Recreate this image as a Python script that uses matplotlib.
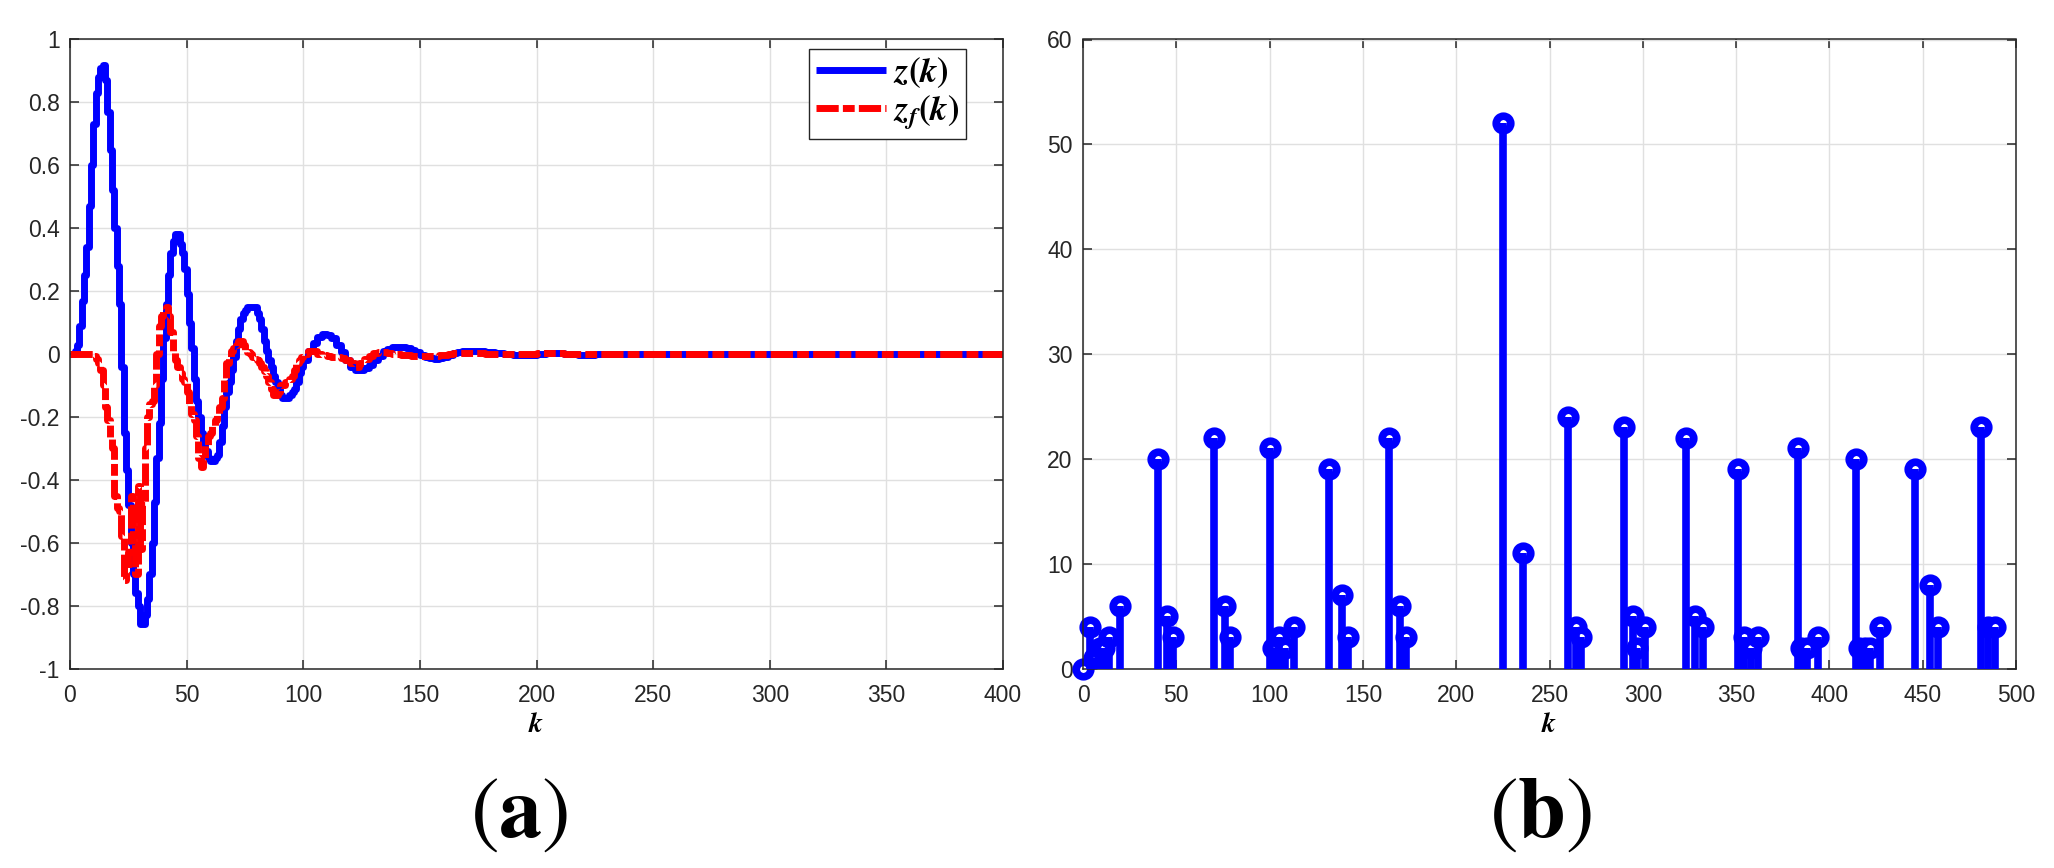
import matplotlib
matplotlib.use("Agg")
import matplotlib.pyplot as plt
import numpy as np

plt.rcParams['font.family'] = ['Liberation Sans', 'DejaVu Sans']
plt.rcParams['mathtext.fontset'] = 'stix'
plt.rcParams['axes.unicode_minus'] = False

# ---------------- data: panel (a) ----------------
k_z = list(range(0, 101)) + [102, 104, 106, 108, 110, 112, 114, 116, 118, 120, 122, 124, 126, 128, 130,
                             132, 134, 136, 138, 140, 142, 144, 146, 148, 150, 152, 154, 156, 158, 160,
                             162, 164, 166, 168, 170, 174, 178, 182, 186, 190, 195, 200, 204, 208, 212,
                             218, 225, 235, 400]
z_vals = [0, 0.0, 0.01, 0.03, 0.09, 0.17, 0.25, 0.34, 0.47, 0.6,
          0.73, 0.83, 0.88, 0.91, 0.92, 0.87, 0.77, 0.65, 0.52, 0.4,
          0.28, 0.16, -0.04, -0.25, -0.37, -0.48, -0.6, -0.7, -0.76, -0.8,
          -0.86, -0.86, -0.83, -0.78, -0.7, -0.6, -0.47, -0.33, -0.22, -0.08,
          0.05, 0.16, 0.25, 0.32, 0.36, 0.38, 0.38, 0.35, 0.32, 0.27,
          0.19, 0.1, 0.02, -0.08, -0.15, -0.2, -0.25, -0.28, -0.31, -0.33,
          -0.34, -0.34, -0.33, -0.32, -0.28, -0.23, -0.17, -0.12, -0.09, -0.05,
          -0.01, 0.04, 0.08, 0.11, 0.13, 0.14, 0.15, 0.15, 0.15, 0.15,
          0.13, 0.11, 0.08, 0.04, 0.01, -0.02, -0.04, -0.07, -0.09, -0.11,
          -0.13, -0.14, -0.14, -0.14, -0.13, -0.12, -0.11, -0.09, -0.06, -0.04,
          -0.02,
          0.01, 0.035, 0.055, 0.065, 0.062, 0.05, 0.03, 0.005, -0.02, -0.04,
          -0.05, -0.05, -0.045, -0.035, -0.02, -0.005, 0.008, 0.016, 0.021, 0.023,
          0.022, 0.018, 0.012, 0.005, -0.003, -0.01, -0.014, -0.016, -0.014, -0.009,
          -0.004, 0.002, 0.006, 0.008, 0.009, 0.008, 0.005, 0.002, -0.001, -0.002,
          -0.002, 0.001, 0.004, 0.002, -0.001, -0.002, 0.0, 0.0, 0.0]

k_zf = k_z
zf_vals = [0, 0, 0, 0, 0, 0, 0, 0, 0, 0,
           -0.005, -0.015, -0.03, -0.05, -0.1, -0.17, -0.21, -0.27, -0.3, -0.45,
           -0.49, -0.5, -0.58, -0.72, -0.69, -0.63, -0.45, -0.6, -0.7, -0.42,
           -0.62, -0.48, -0.3, -0.2, -0.16, -0.15, -0.1, 0.0, 0.09, 0.12,
           0.14, 0.15, 0.12, 0.07, 0.01, -0.02, -0.04, -0.06, -0.08, -0.09,
           -0.12, -0.16, -0.19, -0.21, -0.26, -0.33, -0.36, -0.33, -0.29, -0.26,
           -0.25, -0.23, -0.21, -0.19, -0.17, -0.14, -0.08, -0.03, -0.01, 0.01,
           0.02, 0.03, 0.04, 0.04, 0.03, 0.01, 0.005, 0.0, -0.01, -0.015,
           -0.02, -0.03, -0.04, -0.055, -0.07, -0.09, -0.11, -0.13, -0.13, -0.12,
           -0.1, -0.1, -0.09, -0.09, -0.08, -0.07, -0.05, -0.03, -0.02, -0.01,
           0.0,
           0.01, 0.01, 0.0, -0.003, -0.005, -0.008, -0.01, -0.012, -0.018, -0.03,
           -0.04, -0.03, -0.015, -0.005, 0.003, 0.006, 0.006, 0.004, 0.001, -0.001,
           -0.002, -0.004, -0.005, -0.006, -0.007, -0.007, -0.006, -0.006, -0.004, -0.002,
           0.0, 0.002, 0.003, 0.003, 0.003, 0.002, 0.001, 0.0, -0.001, -0.001,
           0.0, 0.002, 0.004, 0.002, 0.0, -0.001, 0.0, 0.0, 0.0]

xticks_a = [0, 50, 100, 150, 200, 250, 300, 350, 400]
yticks_a = [-1, -0.8, -0.6, -0.4, -0.2, 0, 0.2, 0.4, 0.6, 0.8, 1]

# ---------------- data: panel (b) ----------------
k_events = [0, 4, 6, 9, 11, 14, 20, 40, 45, 48, 70, 76, 79, 100, 102, 105, 108, 113,
            132, 139, 142, 164, 170, 173, 225, 236, 260, 264, 267, 290, 295, 297, 301,
            323, 328, 332, 351, 354, 358, 362, 383, 385, 388, 394, 414, 416, 419, 422,
            427, 446, 454, 458, 481, 485, 489]
intervals = [0, 4, 1, 2, 2, 3, 6, 20, 5, 3, 22, 6, 3, 21, 2, 3, 2, 4,
             19, 7, 3, 22, 6, 3, 52, 11, 24, 4, 3, 23, 5, 2, 4,
             22, 5, 4, 19, 3, 2, 3, 21, 2, 2, 3, 20, 2, 2, 2,
             4, 19, 8, 4, 23, 4, 4]
xticks_b = [0, 50, 100, 150, 200, 250, 300, 350, 400, 450, 500]
yticks_b = [0, 10, 20, 30, 40, 50, 60]

# ---------------- figure ----------------
W, H = 2054, 868
fig = plt.figure(figsize=(W / 100, H / 100), dpi=100)

ax_top, ax_bot = 39.5, 668.5
ax1 = fig.add_axes([70 / W, 1 - ax_bot / H, 933 / W, (ax_bot - ax_top) / H])
ax2 = fig.add_axes([1083 / W, 1 - ax_bot / H, 933 / W, (ax_bot - ax_top) / H])

dark = '#262626'
tick_fs = 16.5


def style(ax, xt, yt):
    ax.set_xticks(xt)
    ax.set_yticks(yt)
    ax.set_xticklabels(['%g' % v for v in xt])
    ax.set_yticklabels(['%g' % v for v in yt])
    ax.grid(True, color='#e0e0e0', lw=1.0)
    ax.set_axisbelow(True)
    for s in ax.spines.values():
        s.set_color(dark)
        s.set_linewidth(1.1)
    ax.tick_params(direction='in', top=True, right=True, length=6.5, width=1.1,
                   colors=dark, labelsize=tick_fs)
    ax.tick_params(axis='x', pad=11)
    ax.tick_params(axis='y', pad=7.5)
    ax.set_xlabel(r'$\mathbfit{k}$', fontsize=20, color='#000000', labelpad=4)


# panel (a)
ax1.plot(k_z, z_vals, color='#0000ff', lw=5, drawstyle='steps-post',
         label=r'$\mathbfit{z}\mathbf{(}\mathbfit{k}\mathbf{)}$', solid_capstyle='butt')
ax1.plot(k_zf, zf_vals, color='#ff0000', lw=5, drawstyle='steps-post',
         dashes=(3.2, 0.6, 1.7, 0.6), dash_capstyle='butt',
         label=r'$\mathbfit{z}_{\mathbfit{f}}\mathbf{(}\mathbfit{k}\mathbf{)}$')
ax1.set_xlim(0, 400)
ax1.set_ylim(-1, 1)
style(ax1, xticks_a, yticks_a)
leg = ax1.legend(loc='upper right', bbox_to_anchor=(0.9603, 0.985), borderaxespad=0,
                 fontsize=25, fancybox=False, framealpha=1, edgecolor=dark,
                 handlelength=2.0, handletextpad=0.2, labelspacing=0.1, borderpad=0.2)
leg.get_frame().set_linewidth(1.0)

# panel (b)
markerline, stemlines, baseline = ax2.stem(k_events, intervals)
stemlines.set_color('#0000ff')
stemlines.set_linewidth(5.5)
stemlines.set_zorder(3)
markerline.set_color('#0000ff')
markerline.set_marker('o')
markerline.set_markersize(10.5)
markerline.set_markeredgewidth(5.5)
markerline.set_markerfacecolor('white')
markerline.set_zorder(2.5)
markerline.set_clip_on(False)
baseline.set_visible(False)
ax2.set_xlim(0, 500)
ax2.set_ylim(0, 60)
style(ax2, xticks_b, yticks_b)

# panel labels
fig.text(519 / W, 1 - 837 / H, r'$(\mathbf{a})$', fontsize=62, ha='center', va='baseline')
fig.text(1541 / W, 1 - 837 / H, r'$(\mathbf{b})$', fontsize=62, ha='center', va='baseline')

fig.savefig('out.png', dpi=100)
